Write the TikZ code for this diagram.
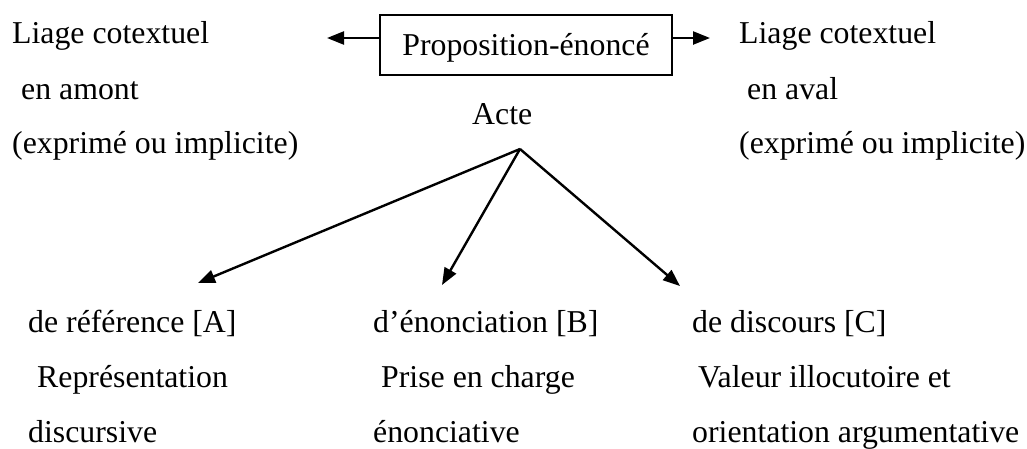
\documentclass[tikz,border=0pt]{standalone}
\usepackage{fontspec}
\setmainfont{Liberation Serif}
\usetikzlibrary{arrows.meta}

\begin{document}
\begin{tikzpicture}[
  x=1pt, y=-1pt,
  lbl/.style={anchor=base west, inner sep=0pt, font=\fontsize{31.8}{38}\selectfont},
  framebox/.style={draw, line width=1.8pt, inner sep=0pt, minimum width=292pt,
    minimum height=60pt, text height=27pt, text depth=7pt,
    font=\fontsize{31.8}{38}\selectfont},
  arr/.style={line width=2.4pt, -{Triangle[length=17pt,width=13pt]}}
]
\useasboundingbox (0,0) rectangle (1027,448);

% central box and the act
\node[framebox] (prop) at (526,45) {Proposition-énoncé};
\node[lbl] (acte) at (472,124) {Acte};

% cotextual links, left column
\node[lbl] (la1) at (12,43)  {Liage cotextuel};
\node[lbl] (la2) at (21,99)  {en amont};
\node[lbl] (la3) at (12,153) {(exprimé ou implicite)};

% cotextual links, right column
\node[lbl] (lb1) at (739,43)  {Liage cotextuel};
\node[lbl] (lb2) at (747,99)  {en aval};
\node[lbl] (lb3) at (739,153) {(exprimé ou implicite)};

% the three acts
\node[lbl] (a1) at (28,332)  {de référence [A]};
\node[lbl] (a2) at (37,387)  {Représentation};
\node[lbl] (a3) at (28,442)  {discursive};

\node[lbl] (b1) at (373,332) {d’énonciation [B]};
\node[lbl] (b2) at (381,387) {Prise en charge};
\node[lbl] (b3) at (373,442) {énonciative};

\node[lbl] (c1) at (692,332) {de discours [C]};
\node[lbl] (c2) at (698,387) {Valeur illocutoire et};
\node[lbl] (c3) at (692,442) {orientation argumentative};

% connector ends
\coordinate (lend) at (327,38);
\coordinate (rend) at (710,38);
\coordinate (fork) at (520,149);
\coordinate (tipA) at (198,283);
\coordinate (tipB) at (442,285);
\coordinate (tipC) at (680,286);

% arrows
\draw[arr] (prop.west |- lend) -- (lend);
\draw[arr] (prop.east |- rend) -- (rend);
\draw[arr] (fork) -- (tipA);
\draw[arr] (fork) -- (tipB);
\draw[arr] (fork) -- (tipC);
\end{tikzpicture}
\end{document}
